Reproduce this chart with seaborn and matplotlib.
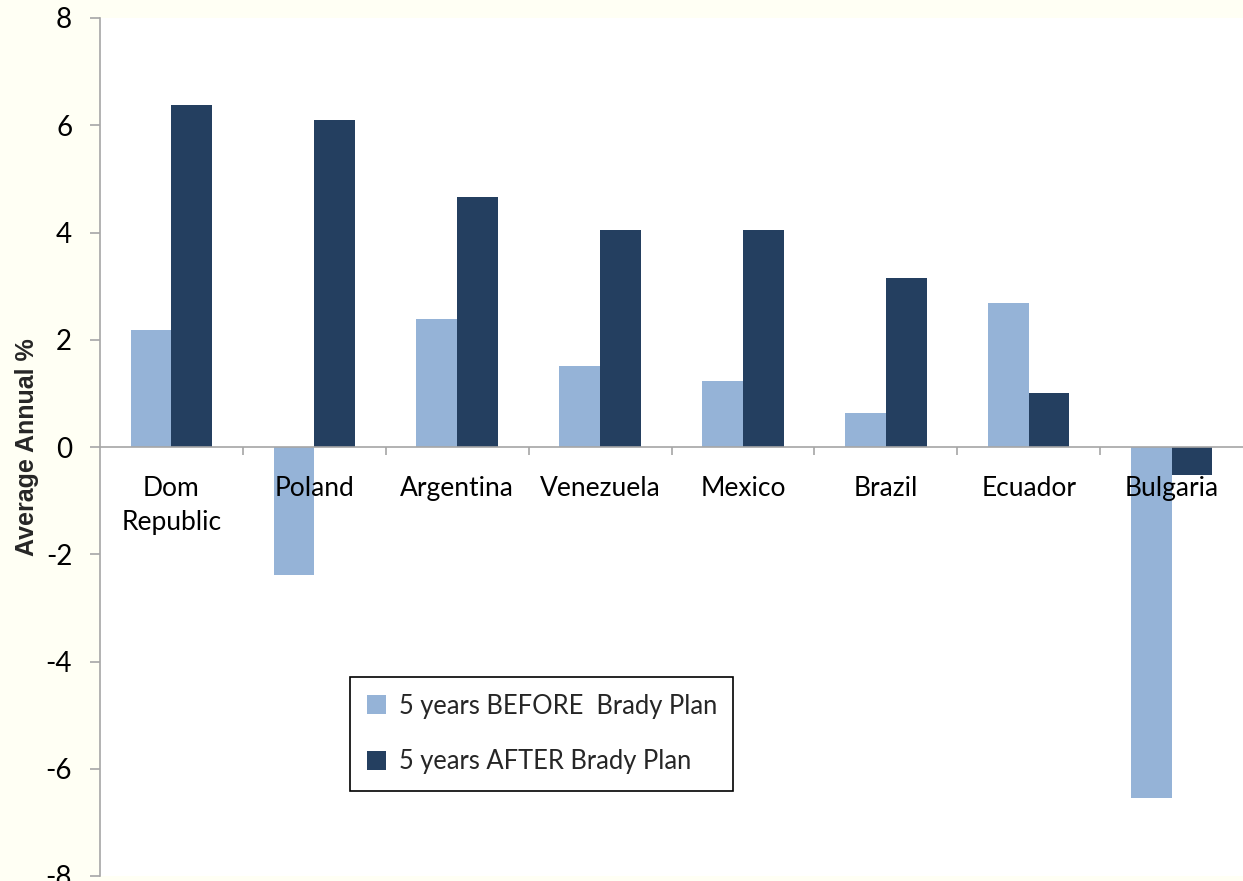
import matplotlib
matplotlib.use("Agg")
import matplotlib.pyplot as plt
import seaborn as sns
import pandas as pd
from matplotlib.patches import Patch
from matplotlib.ticker import FixedLocator

countries = ["Dom\nRepublic", "Poland", "Argentina", "Venezuela", "Mexico", "Brazil", "Ecuador", "Bulgaria"]
before = [2.18, -2.39, 2.39, 1.51, 1.23, 0.63, 2.69, -6.55]
after = [6.38, 6.10, 4.66, 4.05, 4.05, 3.15, 1.01, -0.52]
series_names = ["5 years BEFORE  Brady Plan", "5 years AFTER Brady Plan"]
colors = ["#95B3D7", "#243F60"]
yticks = [-8, -6, -4, -2, 0, 2, 4, 6, 8]

df = pd.DataFrame({
    "country": countries * 2,
    "value": before + after,
    "series": [series_names[0]] * len(countries) + [series_names[1]] * len(countries),
})

sns.set_theme(style="white")
plt.rcParams["font.family"] = ["Lato", "DejaVu Sans"]

fig = plt.figure(figsize=(12.43, 8.81), dpi=100, facecolor="#FFFFF4")
ax = fig.add_axes([100 / 1243, 5 / 881, 1143 / 1243, 858 / 881])
ax.set_facecolor("white")

sns.barplot(data=df, x="country", y="value", hue="series", palette=colors,
            width=0.57, gap=0, saturation=1, ax=ax, legend=False, linewidth=0)
for p in ax.patches:
    p.set_zorder(1)
ax.set_axisbelow(False)

ax.set_xlim(-0.5, len(countries) - 0.5)
ax.set_ylim(-8, 8)
ax.set_yticks(yticks)
ax.set_yticklabels([str(t) for t in yticks])

for s in ["top", "right"]:
    ax.spines[s].set_visible(False)
ax.spines["left"].set_color("#A6A6A6")
ax.spines["left"].set_linewidth(1.2)
ax.spines["bottom"].set_position(("data", 0))
ax.spines["bottom"].set_color("#A6A6A6")
ax.spines["bottom"].set_linewidth(1.2)

ax.tick_params(axis="y", which="major", left=True, length=7, width=1.2, color="#A6A6A6",
               labelsize=20, pad=13, labelcolor="black")
ax.xaxis.set_minor_locator(FixedLocator([i + 0.5 for i in range(len(countries) - 1)]))
ax.tick_params(axis="x", which="major", bottom=True, length=0, labelsize=19, pad=21, labelcolor="black")
ax.tick_params(axis="x", which="minor", bottom=True, length=6, width=1.2, color="#A6A6A6")
for lab in ax.get_xticklabels():
    lab.set_linespacing(1.45)
    lab.set_zorder(5)

ax.set_xlabel("")
ax.set_ylabel("Average Annual %", fontsize=18, fontweight="bold",
              fontfamily=["Liberation Sans", "DejaVu Sans"])
ax.yaxis.set_label_coords(-0.053, 0.5)

handles = [Patch(facecolor=c, edgecolor="none") for c in colors]
leg = ax.legend(handles, series_names, loc="lower left",
                bbox_to_anchor=(0.2187, 0.0991), fontsize=18.4, frameon=True,
                fancybox=False, edgecolor="black", framealpha=1,
                handlelength=0.75, handleheight=0.75, handletextpad=0.5,
                labelspacing=1.2, borderpad=0.65, borderaxespad=0)
leg.get_frame().set_linewidth(1.2)

fig.savefig("out.png", dpi=100, facecolor=fig.get_facecolor())
